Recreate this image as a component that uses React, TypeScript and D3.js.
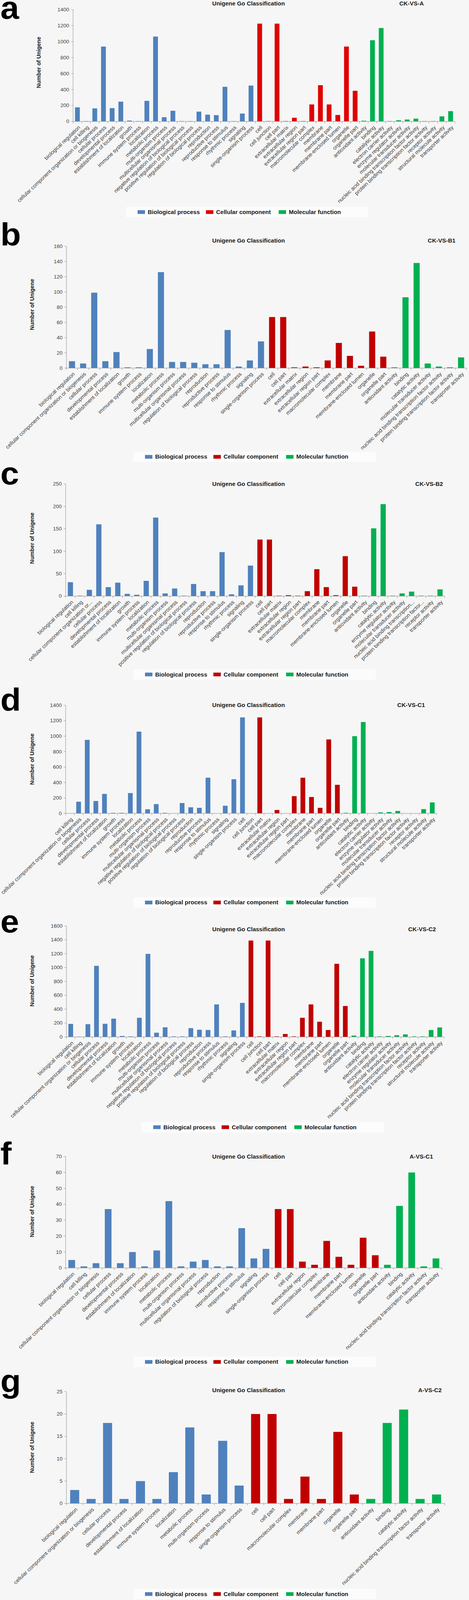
import React from "react";
import * as d3 from "d3";

// ---------------- DATA ----------------
const legendNames = ["Biological process", "Cellular component", "Molecular function"];
const chartTitle = "Unigene Go Classification";
const yAxisTitle = "Number of Unigene";

// Panel a: CK-VS-A
const catsA = [
  "biological regulation", "cell killing", "cellular component organization or biogenesis", "cellular process",
  "developmental process", "establishment of localization", "growth", "immune system process", "localization",
  "metabolic process", "multi-organism process", "multicellular organismal process",
  "negative regulation of biological process", "positive regulation of biological process",
  "regulation of biological process", "reproduction", "reproductive process", "response to stimulus",
  "rhythmic process", "signaling", "single-organism process",
  "cell", "cell junction", "cell part", "extracellular matrix", "extracellular region", "extracellular region part",
  "macromolecular complex", "membrane", "membrane part", "membrane-enclosed lumen", "organelle", "organelle part",
  "antioxidant activity", "binding", "catalytic activity", "electron carrier activity", "enzyme regulator activity",
  "molecular transducer activity", "nucleic acid binding transcription factor activity",
  "protein binding transcription factor activity", "receptor activity", "structural molecule activity",
  "transporter activity",
];
const valsA = [177, 5, 164, 938, 167, 248, 11, 5, 258, 1063, 53, 134, 5, 5, 123, 85, 79, 434, 5, 99, 449,
  1225, 5, 1225, 5, 46, 5, 213, 454, 213, 81, 938, 384,
  9, 1017, 1170, 5, 15, 24, 35, 5, 5, 64, 129];
const groupCountsA = [21, 12, 11];

// Panel b: CK-VS-B1
const catsB = [
  "biological regulation", "cellular component organization or biogenesis", "cellular process",
  "developmental process", "establishment of localization", "growth", "immune system process", "localization",
  "metabolic process", "multi-organism process", "multicellular organismal process",
  "regulation of biological process", "reproduction", "reproductive process", "response to stimulus",
  "rhythmic process", "signaling", "single-organism process",
  "cell", "cell part", "extracellular matrix", "extracellular region", "extracellular region part",
  "macromolecular complex", "membrane", "membrane part", "membrane-enclosed lumen", "organelle", "organelle part",
  "antioxidant activity", "binding", "catalytic activity", "molecular transducer activity",
  "nucleic acid binding transcription factor activity", "protein binding transcription factor activity",
  "transporter activity",
];
const valsB = [9, 6, 99, 9, 21, 1, 1, 25, 126, 8, 8, 7, 5, 5, 50, 2, 10, 35,
  67, 67, 1, 2, 1, 10, 33, 16, 3, 48, 15,
  1, 93, 138, 6, 2, 1, 14];
const groupCountsB = [18, 11, 7];

// Panel c: CK-VS-B2
const catsC = [
  "biological regulation", "cell killing", "cellular component organization or...", "cellular process",
  "developmental process", "establishment of localization", "growth", "immune system process", "localization",
  "metabolic process", "multi-organism process", "multicellular organismal process",
  "positive regulation of biological process", "regulation of biological process", "reproduction",
  "reproductive process", "response to stimulus", "rhythmic process", "signaling", "single-organism process",
  "cell", "cell part", "extracellular matrix", "extracellular region", "extracellular region part",
  "macromolecular complex", "membrane", "membrane part", "membrane-enclosed lumen", "organelle", "organelle part",
  "antioxidant activity", "binding", "catalytic activity", "enzyme regulator activity",
  "molecular transducer activity", "nucleic acid binding transcription...", "protein binding transcription factor...",
  "receptor activity", "transporter activity",
];
const valsC = [31, 1, 14, 160, 20, 30, 5, 3, 34, 175, 6, 17, 1, 27, 11, 11, 98, 4, 24, 68,
  126, 126, 1, 2, 1, 11, 60, 20, 2, 89, 21,
  1, 151, 205, 1, 6, 10, 1, 1, 15];
const groupCountsC = [20, 11, 9];

// Panel d: CK-VS-C1 (the "cell" bar is drawn in the Biological process colour in the source)
const catsD = catsA.slice(1);
const valsD = [0, 151, 952, 160, 252, 7, 7, 263, 1059, 53, 120, 7, 0, 134, 79, 72, 462, 0, 99, 442, 1243,
  0, 1243, 0, 44, 0, 223, 462, 212, 72, 958, 370,
  7, 1000, 1183, 0, 13, 17, 31, 0, 0, 55, 142];
const groupCountsD = [21, 11, 11];

// Panel e: CK-VS-C2
const catsE = catsA;
const valsE = [188, 5, 184, 1025, 190, 264, 14, 8, 276, 1197, 61, 139, 8, 8, 127, 104, 100, 469, 8, 94, 491,
  1389, 8, 1389, 8, 43, 8, 276, 469, 219, 100, 1054, 446,
  20, 1133, 1240, 8, 14, 25, 37, 8, 8, 100, 137];
const groupCountsE = [21, 12, 11];

// Panel f: A-VS-C1
const catsF = [
  "biological regulation", "cell killing", "cellular component organization or biogenesis", "cellular process",
  "developmental process", "establishment of localization", "immune system process", "localization",
  "metabolic process", "multi-organism process", "multicellular organismal process",
  "regulation of biological process", "reproduction", "reproductive process", "response to stimulus",
  "signaling", "single-organism process",
  "cell", "cell part", "extracellular region", "macromolecular complex", "membrane", "membrane part",
  "membrane-enclosed lumen", "organelle", "organelle part",
  "antioxidant activity", "binding", "catalytic activity", "nucleic acid binding transcription factor activity",
  "transporter activity",
];
const valsF = [5, 1, 3, 37, 3, 10, 1, 11, 42, 1, 4, 5, 1, 1, 25, 6, 12,
  37, 37, 4, 2, 17, 7, 2, 19, 8,
  2, 39, 60, 1, 6];
const groupCountsF = [17, 9, 5];

// Panel g: A-VS-C2
const catsG = [
  "biological regulation", "cellular component organization or biogenesis", "cellular process",
  "developmental process", "establishment of localization", "immune system process", "localization",
  "metabolic process", "multi-organism process", "response to stimulus", "single-organism process",
  "cell", "cell part", "macromolecular complex", "membrane", "membrane part", "organelle", "organelle part",
  "antioxidant activity", "binding", "catalytic activity", "nucleic acid binding transcription factor activity",
  "transporter activity",
];
const valsG = [3, 1, 18, 1, 5, 1, 7, 17, 2, 14, 4,
  20, 20, 1, 6, 1, 16, 2,
  1, 18, 21, 1, 2];
const groupCountsG = [11, 7, 5];

// ---------------- LAYOUT ----------------
const FONT = "'Liberation Sans', Arial, Helvetica, sans-serif";
const W = 1200;
const H = 4308;

type Panel = {
  letter: string; letterY: number; compare: string; compareX: number; titleY: number;
  cats: string[]; vals: number[]; counts: number[];
  yMax: number; yStep: number; yTop: number; yBottom: number; x0: number; x1: number;
  yTitleX: number; yTitleY: number; legendX: number; legendY: number; colors: string[];
};

const colorsA = ["#4f81bd", "#e00000", "#00b050"];
const colorsB = ["#4f81bd", "#c00000", "#00b050"];

const panels: Panel[] = [
  { letter: "a", letterY: 51, compare: "CK-VS-A", compareX: 1053, titleY: 10, cats: catsA, vals: valsA, counts: groupCountsA,
    yMax: 1400, yStep: 200, yTop: 26, yBottom: 327, x0: 187, x1: 1164, yTitleX: 99, yTitleY: 168, legendX: 352, legendY: 571, colors: colorsA },
  { letter: "b", letterY: 660, compare: "CK-VS-B1", compareX: 1130, titleY: 648, cats: catsB, vals: valsB, counts: groupCountsB,
    yMax: 160, yStep: 20, yTop: 663, yBottom: 991, x0: 170, x1: 1194, yTitleX: 82, yTitleY: 820, legendX: 371, legendY: 1230, colors: colorsB },
  { letter: "c", letterY: 1304, compare: "CK-VS-B2", compareX: 1098, titleY: 1303, cats: catsC, vals: valsC, counts: groupCountsC,
    yMax: 250, yStep: 50, yTop: 1303, yBottom: 1605, x0: 168, x1: 1138, yTitleX: 82, yTitleY: 1449, legendX: 371, legendY: 1816, colors: colorsB },
  { letter: "d", letterY: 1913, compare: "CK-VS-C1", compareX: 1052, titleY: 1899, cats: catsD, vals: valsD, counts: groupCountsD,
    yMax: 1400, yStep: 200, yTop: 1899, yBottom: 2190, x0: 168, x1: 1117, yTitleX: 82, yTitleY: 2044, legendX: 371, legendY: 2430, colors: colorsB },
  { letter: "e", letterY: 2511, compare: "CK-VS-C2", compareX: 1080, titleY: 2502, cats: catsE, vals: valsE, counts: groupCountsE,
    yMax: 1600, yStep: 200, yTop: 2493, yBottom: 2792, x0: 170, x1: 1136, yTitleX: 82, yTitleY: 2641, legendX: 392, legendY: 3035, colors: colorsB },
  { letter: "f", letterY: 3135, compare: "A-VS-C1", compareX: 1078, titleY: 3114, cats: catsF, vals: valsF, counts: groupCountsF,
    yMax: 70, yStep: 10, yTop: 3114, yBottom: 3414, x0: 168, x1: 1131, yTitleX: 82, yTitleY: 3262, legendX: 371, legendY: 3667, colors: colorsB },
  { letter: "g", letterY: 3748, compare: "A-VS-C2", compareX: 1100, titleY: 3743, cats: catsG, vals: valsG, counts: groupCountsG,
    yMax: 25, yStep: 5, yTop: 3747, yBottom: 4048, x0: 170, x1: 1138, yTitleX: 82, yTitleY: 3897, legendX: 371, legendY: 4292, colors: colorsB },
];

const legendOffsets = [0, 175, 361];

function groupOf(counts: number[], i: number): number {
  let acc = 0;
  for (let g = 0; g < counts.length; g++) {
    acc += counts[g];
    if (i < acc) return g;
  }
  return counts.length - 1;
}

function PanelChart({ p }: { p: Panel }) {
  const x = d3.scaleBand<number>()
    .domain(d3.range(p.cats.length))
    .range([p.x0, p.x1])
    .paddingInner(0.45)
    .paddingOuter(0.225);
  const y = d3.scaleLinear().domain([0, p.yMax]).range([p.yBottom, p.yTop]);
  const step = (p.x1 - p.x0) / p.cats.length;
  const yTicks = d3.range(0, p.yMax + p.yStep / 2, p.yStep);
  const axisColor = "#8c8c8c";
  return (
    <g>
      <text x={1} y={p.letterY} fontFamily={FONT} fontWeight="bold" fontSize={86} fill="#000">{p.letter}</text>
      <text x={636} y={p.titleY} fontFamily={FONT} fontWeight="bold" fontSize={15} fill="#1a1a1a"
        textAnchor="middle" dominantBaseline="central">{chartTitle}</text>
      <text x={p.compareX} y={p.titleY} fontFamily={FONT} fontWeight="bold" fontSize={15} fill="#1a1a1a"
        textAnchor="middle" dominantBaseline="central">{p.compare}</text>
      <text transform={`translate(${p.yTitleX},${p.yTitleY}) rotate(-90)`} fontFamily={FONT} fontWeight="bold"
        fontSize={15} fill="#1a1a1a" textAnchor="middle" dominantBaseline="central">{yAxisTitle}</text>
      {/* y axis */}
      <line x1={p.x0} x2={p.x0} y1={p.yTop} y2={p.yBottom} stroke={axisColor} strokeWidth={1} />
      {yTicks.map((t) => (
        <g key={t}>
          <line x1={p.x0 - 5} x2={p.x0} y1={y(t)} y2={y(t)} stroke={axisColor} strokeWidth={1} />
          <text x={p.x0 - 10} y={y(t)} fontFamily={FONT} fontSize={13.5} fill="#404040" textAnchor="end"
            dominantBaseline="central">{t}</text>
        </g>
      ))}
      {/* bars */}
      {p.vals.map((v, i) => (
        v > 0 ? (
          <rect key={i} x={x(i)} y={y(v)} width={x.bandwidth()} height={p.yBottom - y(v)}
            fill={p.colors[groupOf(p.counts, i)]} />
        ) : null
      ))}
      {/* x axis */}
      <line x1={p.x0} x2={p.x1} y1={p.yBottom} y2={p.yBottom} stroke={axisColor} strokeWidth={1} />
      {d3.range(p.cats.length + 1).map((i) => (
        <line key={i} x1={p.x0 + i * step} x2={p.x0 + i * step} y1={p.yBottom} y2={p.yBottom + 5}
          stroke={axisColor} strokeWidth={1} />
      ))}
      {p.cats.map((c, i) => {
        const cx = (x(i) as number) + x.bandwidth() / 2;
        return (
          <text key={i} transform={`translate(${cx + 5},${p.yBottom + 14}) rotate(-45)`} fontFamily={FONT}
            fontSize={14} fill="#404040" textAnchor="end" dominantBaseline="central">{c}</text>
        );
      })}
      {/* legend */}
      <rect x={p.legendX - 30} y={p.legendY - 14} width={620} height={28} fill="#fcfcfc" />
      {legendNames.map((n, k) => (
        <g key={n}>
          <rect x={p.legendX + legendOffsets[k]} y={p.legendY - 5} width={19} height={10} fill={p.colors[k]} />
          <text x={p.legendX + legendOffsets[k] + 26} y={p.legendY} fontFamily={FONT} fontWeight="bold" fontSize={15}
            fill="#1a1a1a" dominantBaseline="central">{n}</text>
        </g>
      ))}
    </g>
  );
}

if (typeof document !== "undefined") {
  document.body.style.margin = "0";
}

export default function App() {
  // The window's visible height can be smaller than the figure; fit the whole figure into it.
  const vh = typeof window !== "undefined" && window.innerHeight ? Math.min(H, window.innerHeight) : H;
  return (
    <svg width={W} height={vh} viewBox={`0 0 ${W} ${H}`} preserveAspectRatio="none"
      style={{ display: "block", background: "#f6f6f6" }}>
      <rect x={0} y={0} width={W} height={H} fill="#f6f6f6" />
      {panels.map((p) => (
        <PanelChart key={p.letter} p={p} />
      ))}
    </svg>
  );
}
